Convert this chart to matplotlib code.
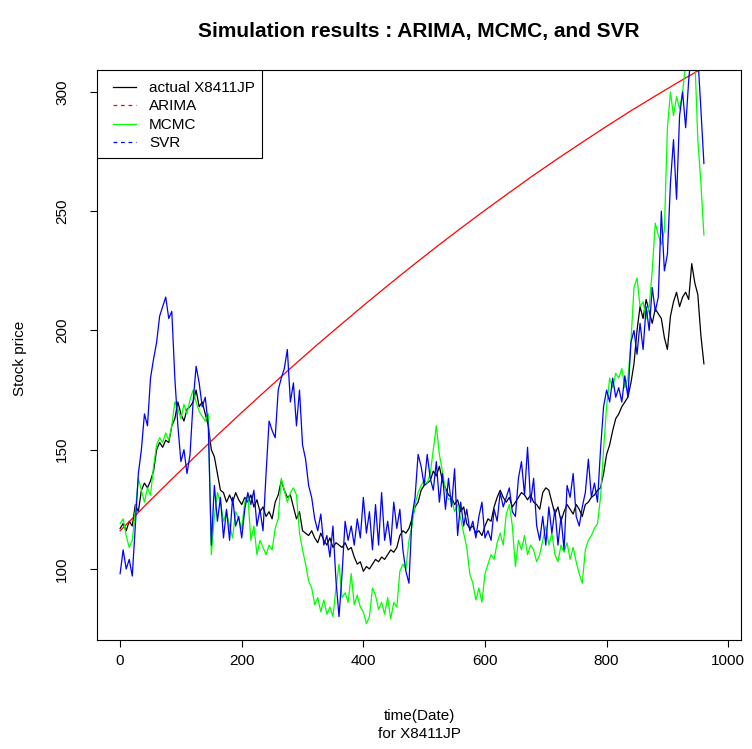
import numpy as np
import matplotlib
matplotlib.use("Agg")
import matplotlib.pyplot as plt
from matplotlib.lines import Line2D
from matplotlib.patches import Rectangle

plt.rcParams['font.family'] = ['Liberation Sans', 'DejaVu Sans']

# daily index sampled every 5 steps
step = 5
actual = [
    117, 119, 116, 120, 118, 127, 124, 133, 136, 134,
    137, 141, 150, 153, 151, 154, 153, 160, 163, 170,
    165, 162, 167, 168, 170, 175, 168, 170, 165, 160,
    150, 147, 140, 133, 132, 128, 131, 128, 132, 129,
    127, 130, 128, 131, 126, 129, 124, 126, 122, 124,
    121, 128, 131, 137, 133, 130, 131, 126, 121, 124,
    116, 115, 114, 116, 113, 111, 115, 112, 110, 113,
    109, 111, 110, 109, 111, 108, 109, 105, 102, 103,
    99, 101, 100, 102, 104, 103, 105, 104, 106, 108,
    107, 109, 114, 116, 115, 117, 121, 126, 128, 133,
    135, 136, 137, 141, 139, 143, 137, 134, 131, 130,
    127, 129, 124, 126, 119, 117, 118, 115, 116, 114,
    118, 121, 120, 126, 130, 133, 130, 128, 130, 126,
    128, 130, 132, 131, 129, 131, 128, 127, 125, 132,
    134, 133, 128, 123, 126, 120, 124, 127, 125, 123,
    127, 125, 122, 127, 128, 130, 131, 133, 134, 140,
    148, 152, 158, 163, 165, 168, 170, 172, 178, 186,
    200, 210, 205, 213, 208, 203, 209, 207, 205, 197,
    192, 206, 212, 216, 210, 214, 216, 213, 228, 220,
    215, 198, 186,
]
mcmc = [
    119, 121, 114, 109, 112, 124, 138, 133, 128, 134,
    131, 143, 152, 155, 153, 157, 154, 160, 170, 167,
    163, 169, 165, 171, 175, 170, 166, 164, 162, 165,
    106, 122, 132, 128, 120, 124, 118, 113, 124, 121,
    117, 128, 131, 112, 118, 106, 112, 109, 106, 110,
    108, 117, 121, 138, 133, 128, 132, 134, 131, 115,
    108, 102, 95, 92, 85, 88, 82, 87, 81, 84,
    80, 92, 102, 88, 90, 86, 98, 85, 89, 84,
    82, 77, 80, 92, 89, 83, 86, 81, 88, 79,
    86, 84, 99, 102, 100, 112, 118, 127, 132, 135,
    137, 136, 140, 150, 160, 148, 141, 133, 129, 130,
    124, 127, 121, 115, 109, 98, 94, 87, 92, 86,
    98, 102, 106, 104, 111, 115, 110, 123, 127, 118,
    101, 112, 108, 114, 106, 110, 108, 103, 106, 112,
    118, 110, 115, 106, 103, 110, 107, 111, 104, 109,
    103, 98, 94, 108, 112, 114, 117, 119, 130, 150,
    168, 180, 176, 182, 180, 184, 176, 180, 195, 218,
    222, 210, 212, 205, 210, 225, 245, 240, 236, 242,
    285, 300, 290, 298, 293, 300, 312, 320, 318, 315,
    280, 262, 240,
]
svr = [
    98, 108, 100, 104, 97, 118, 140, 150, 165, 160,
    180, 188, 195, 206, 210, 214, 205, 208, 180, 160,
    145, 150, 140, 148, 170, 185, 178, 168, 172, 160,
    110, 135, 120, 130, 113, 125, 112, 130, 118, 122,
    113, 125, 132, 127, 133, 118, 125, 116, 140, 162,
    158, 155, 175, 180, 184, 192, 170, 178, 160, 175,
    152, 146, 135, 130, 121, 116, 123, 110, 114, 105,
    118, 95, 80, 98, 120, 112, 118, 110, 121, 113,
    130, 115, 124, 108, 127, 110, 132, 112, 120, 110,
    128, 117, 125, 108, 99, 94, 122, 130, 148, 143,
    135, 148, 138, 133, 145, 128, 140, 125, 138, 126,
    142, 114, 128, 118, 125, 116, 120, 113, 122, 128,
    113, 116, 112, 125, 120, 132, 126, 130, 134, 124,
    122, 138, 145, 131, 151, 128, 138, 118, 112, 122,
    110, 126, 115, 125, 110, 122, 108, 135, 130, 140,
    122, 118, 126, 132, 146, 130, 136, 128, 150, 168,
    175, 170, 180, 172, 176, 170, 181, 172, 195, 200,
    190, 203, 192, 210, 200, 218, 208, 214, 250, 225,
    232, 262, 280, 255, 290, 300, 285, 305, 318, 320,
    315, 293, 270,
]
# ARIMA forecast path, every 40 steps
arima_t = [0, 40, 80, 120, 160, 200, 240, 280, 320, 360, 400, 440, 480,
           520, 560, 600, 640, 680, 720, 760, 800, 840, 880, 920, 960]
arima = [116, 126.3, 136.4, 146.3, 156.1, 165.6, 174.9, 184.1, 193.1, 201.8,
         210.4, 218.8, 227.0, 235.0, 242.8, 250.4, 257.8, 265.1, 272.1,
         278.9, 285.6, 292.1, 298.3, 304.4, 310.3]

t = np.arange(len(actual)) * step

fig = plt.figure(figsize=(7.52, 7.49), dpi=100)
axw, axh = (741 - 97), (640 - 70)
ax = fig.add_axes([97/752, 1 - 640/749, axw/752, axh/749])

ax.plot(t, actual, color='black', lw=0.9)
ax.plot(arima_t, arima, color='red', lw=0.9)
ax.plot(t, mcmc, color='#00FF00', lw=0.9)
ax.plot(t, svr, color='blue', lw=0.9)

ax.set_xlim(-38, 1021)
ax.set_ylim(70.2, 309.2)
ax.set_xticks([0, 200, 400, 600, 800, 1000])
ax.set_yticks([100, 150, 200, 250, 300])
ax.tick_params(axis='both', direction='out', length=5, width=0.8, labelsize=11)
ax.tick_params(axis='x', pad=5)
ax.tick_params(axis='y', pad=15)
for lab in ax.get_yticklabels():
    lab.set_rotation(90)
    lab.set_va('center')
for s in ax.spines.values():
    s.set_linewidth(0.8)

# legend box in the top-left corner, R style
ax.add_patch(Rectangle((0, 1 - 88/axh), 165/axw, 88/axh, transform=ax.transAxes,
                       facecolor='white', edgecolor='black', lw=0.8, zorder=4))
handles = [
    Line2D([], [], color='black', lw=0.9),
    Line2D([], [], color='red', lw=0.9, ls=(0, (3, 3))),
    Line2D([], [], color='#00FF00', lw=0.9),
    Line2D([], [], color='blue', lw=0.9, ls=(0, (3, 3))),
]
leg = ax.legend(handles, ['actual X8411JP', 'ARIMA', 'MCMC', 'SVR'],
                loc='upper left', bbox_to_anchor=(16/axw, 1 - 11/axh),
                borderaxespad=0, borderpad=0, frameon=False, fontsize=11,
                handlelength=1.5, handletextpad=0.85, labelspacing=0.29)
leg.set_zorder(5)

fig.text(419/752, 1 - 32/749, 'Simulation results : ARIMA, MCMC, and SVR',
         ha='center', va='center', fontsize=15, fontweight='bold')
fig.text(419/752, 1 - 716/749, 'time(Date)', ha='center', va='center', fontsize=11)
fig.text(419/752, 1 - 734/749, 'for X8411JP', ha='center', va='center', fontsize=11)
fig.text(20/752, 1 - 358/749, 'Stock price', ha='center', va='center',
         rotation=90, fontsize=11)

fig.savefig('out.png', dpi=100)
